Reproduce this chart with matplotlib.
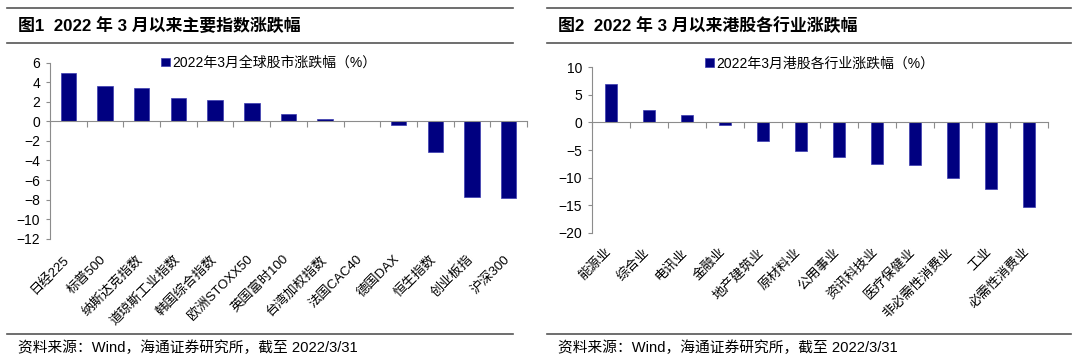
import numpy as np
import matplotlib.pyplot as plt

plt.rcParams['font.family'] = ['Liberation Sans', 'Noto Sans CJK SC']

# 图1 data
idx_names = ['日经225', '标普500', '纳斯达克指数', '道琼斯工业指数', '韩国综合指数',
             '欧洲STOXX50', '英国富时100', '台湾加权指数', '法国CAC40', '德国DAX',
             '恒生指数', '创业板指', '沪深300']
idx_vals = [4.9, 3.6, 3.4, 2.35, 2.15, 1.87, 0.78, 0.24, 0.03, -0.34, -3.14, -7.7, -7.84]

# 图2 data
ind_names = ['能源业', '综合业', '电讯业', '金融业', '地产建筑业', '原材料业', '公用事业',
             '资讯科技业', '医疗保健业', '非必需性消费业', '工业', '必需性消费业']
ind_vals = [6.9, 2.2, 1.4, -0.55, -3.3, -5.1, -6.2, -7.5, -7.75, -10.1, -12.1, -15.4]

W, H = 1080, 361
fig = plt.figure(figsize=(W / 100, H / 100), dpi=100)
fig.patch.set_facecolor('white')

def fx(x):
    return x / W

def fy(y):
    return 1 - y / H

def hline(x0, x1, y, lw=1.2, c='#555555'):
    fig.add_artist(plt.Line2D([fx(x0), fx(x1)], [fy(y), fy(y)], lw=lw, color=c))

navy = '#000080'
grey = '#8c8c8c'

def panel(left, right, top, bottom, names, vals, ylim, ystep, bw, legtext, leg_xy, title, px0, px1):
    ax = fig.add_axes([fx(left), fy(bottom), fx(right - left), fy(top) - fy(bottom)])
    x = np.arange(len(names))
    ax.bar(x, vals, width=bw, color=navy, edgecolor='#3b3bb0', linewidth=0.5, label=legtext)
    ax.set_xlim(-0.5, len(names) - 0.5)
    ax.set_ylim(*ylim)
    ax.set_yticks(np.arange(ylim[0], ylim[1] + 1, ystep))
    ax.set_xticks(np.arange(len(names) + 1) - 0.5)
    ax.set_xticklabels([])
    for s in ['top', 'right']:
        ax.spines[s].set_visible(False)
    ax.spines['bottom'].set_position(('data', 0))
    ax.spines['bottom'].set_color(grey)
    ax.spines['left'].set_color(grey)
    ax.tick_params(axis='x', direction='out', length=4, color=grey)
    ax.tick_params(axis='y', direction='out', length=3, color=grey, labelsize=10, pad=4)
    for i, n in enumerate(names):
        ax.text(i - 0.15, -0.08, n, transform=ax.get_xaxis_transform(), rotation=45,
                ha='right', va='top', rotation_mode='anchor', fontsize=9.5)
    ax.legend(loc='upper left', bbox_to_anchor=leg_xy, frameon=False, fontsize=10,
              handlelength=0.6, handleheight=0.6, handletextpad=0.2, borderaxespad=0)
    # title block
    hline(px0, px1, 8)
    hline(px0, px1, 43)
    fig.text(fx(px0 + 11), fy(26), title, fontsize=12.2, fontweight='bold', va='center')
    hline(px0, px1, 334)
    fig.text(fx(px0 + 11), fy(348), '资料来源：Wind，海通证券研究所，截至 2022/3/31',
             fontsize=10.6, va='center')
    return ax

panel(50, 527, 62.7, 238.7, idx_names, idx_vals, (-12, 6), 2, 0.42,
      '2022年3月全球股市涨跌幅（%）', (0.222, 1.07), '图1  2022 年 3 月以来主要指数涨跌幅', 7, 513)
panel(591.7, 1048, 67.3, 232.7, ind_names, ind_vals, (-20, 10), 5, 0.32,
      '2022年3月港股各行业涨跌幅（%）', (0.237, 1.1), '图2  2022 年 3 月以来港股各行业涨跌幅', 547, 1071)

fig.savefig('out.png', dpi=100)
